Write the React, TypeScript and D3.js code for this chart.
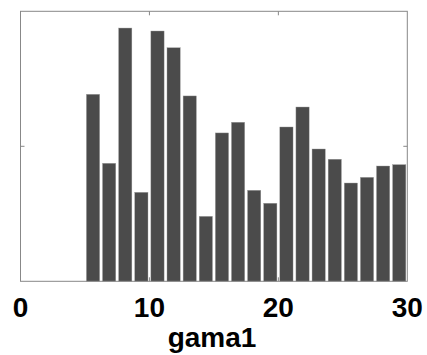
import React, { useRef, useEffect } from 'react';
import * as d3 from 'd3';

// histogram of gama1: 20 bins of width 1.25 from 5 to 30
const binStarts = [5, 6.25, 7.5, 8.75, 10, 11.25, 12.5, 13.75, 15, 16.25, 17.5, 18.75, 20, 21.25, 22.5, 23.75, 25, 26.25, 27.5, 28.75];
const counts = [1.385, 0.874, 1.876, 0.659, 1.854, 1.73, 1.373, 0.481, 1.099, 1.178, 0.674, 0.578, 1.143, 1.291, 0.98, 0.904, 0.728, 0.77, 0.854, 0.864];
const xTicks = [0, 10, 20, 30];
const yTicks = [1];
const binWidth = 1.25;

const W = 427;
const H = 355;

const App = () => {
    const ref = useRef<SVGSVGElement>(null);

    useEffect(() => {
        if (!ref.current) return;
        const svg = d3.select(ref.current);
        svg.selectAll('*').remove();

        const left = 20.5, right = 407.3, top = 11.3, bottom = 281.3;
        const x = d3.scaleLinear().domain([0, 30]).range([left, right]);
        const y = d3.scaleLinear().domain([0, 2]).range([bottom, top]);

        const data = binStarts.map((s, i) => ({ s, v: counts[i] }));
        const gap = binWidth * 0.09;

        svg.append('g')
            .selectAll('rect')
            .data(data)
            .enter()
            .append('rect')
            .attr('x', d => x(d.s + gap))
            .attr('width', d => x(d.s + binWidth - gap) - x(d.s + gap))
            .attr('y', d => y(d.v))
            .attr('height', d => y(0) - y(d.v))
            .attr('fill', '#4b4b4b')
            .attr('stroke', '#9a9a9a')
            .attr('stroke-width', 0.4);

        // frame
        svg.append('rect')
            .attr('x', left).attr('y', top)
            .attr('width', right - left).attr('height', bottom - top)
            .attr('fill', 'none').attr('stroke', '#888').attr('stroke-width', 1);

        const tickLen = 4;
        const inner = xTicks.filter(t => t > 0 && t < 30);
        svg.append('g').selectAll('line.tb').data(inner).enter().append('line')
            .attr('x1', d => x(d)).attr('x2', d => x(d))
            .attr('y1', bottom).attr('y2', bottom - tickLen)
            .attr('stroke', '#888');
        svg.append('g').selectAll('line.tt').data(inner).enter().append('line')
            .attr('x1', d => x(d)).attr('x2', d => x(d))
            .attr('y1', top).attr('y2', top + tickLen)
            .attr('stroke', '#888');
        svg.append('g').selectAll('line.yl').data(yTicks).enter().append('line')
            .attr('x1', left).attr('x2', left + tickLen)
            .attr('y1', d => y(d)).attr('y2', d => y(d))
            .attr('stroke', '#888');
        svg.append('g').selectAll('line.yr').data(yTicks).enter().append('line')
            .attr('x1', right).attr('x2', right - tickLen)
            .attr('y1', d => y(d)).attr('y2', d => y(d))
            .attr('stroke', '#888');

        svg.append('g').selectAll('text').data(xTicks).enter().append('text')
            .attr('x', d => x(d))
            .attr('y', 317)
            .attr('text-anchor', 'middle')
            .attr('font-family', 'Liberation Sans, Arial, sans-serif')
            .attr('font-weight', 'bold')
            .attr('font-size', 28)
            .attr('fill', '#000')
            .text(d => d);

        svg.append('text')
            .attr('x', 212)
            .attr('y', 347)
            .attr('text-anchor', 'middle')
            .attr('font-family', 'Liberation Sans, Arial, sans-serif')
            .attr('font-weight', 'bold')
            .attr('font-size', 28)
            .attr('fill', '#000')
            .text('gama1');
    }, []);

    return (
        <svg ref={ref} width={W} height={H} style={{ position: 'absolute', left: 0, top: 0, background: '#fff' }} />
    );
};

export default App;
